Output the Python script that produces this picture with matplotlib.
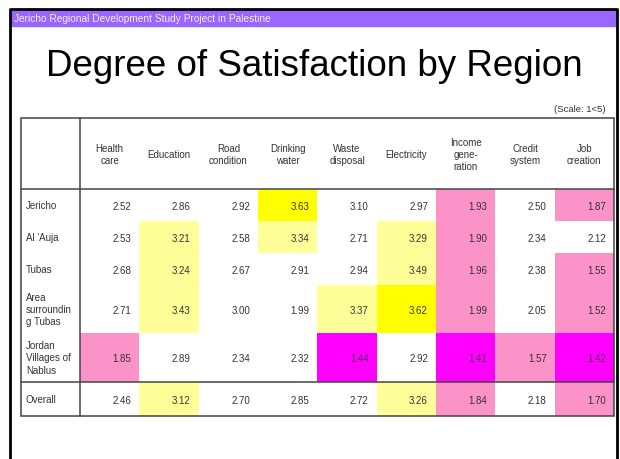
import matplotlib.pyplot as plt
from matplotlib.patches import Rectangle

# survey table: mean satisfaction (scale 1-5)
regions = ["Jericho", "Al 'Auja", "Tubas", "Area\nsurroundin\ng Tubas",
           "Jordan\nVillages of\nNablus", "Overall"]
items = ["Health\ncare", "Education", "Road\ncondition", "Drinking\nwater",
         "Waste\ndisposal", "Electricity", "Income\ngene-\nration",
         "Credit\nsystem", "Job\ncreation"]
scores = [
    [2.52, 2.86, 2.92, 3.63, 3.10, 2.97, 1.93, 2.50, 1.87],
    [2.53, 3.21, 2.58, 3.34, 2.71, 3.29, 1.90, 2.34, 2.12],
    [2.68, 3.24, 2.67, 2.91, 2.94, 3.49, 1.96, 2.38, 1.55],
    [2.71, 3.43, 3.00, 1.99, 3.37, 3.62, 1.99, 2.05, 1.52],
    [1.85, 2.89, 2.34, 2.32, 1.44, 2.92, 1.41, 1.57, 1.42],
    [2.46, 3.12, 2.70, 2.85, 2.72, 3.26, 1.84, 2.18, 1.70],
]
# highlight of each cell: Y bright yellow, y light yellow, p pink, m magenta
marks = [
    "---Y--p-p",
    "-y-y-yp--",
    "-y---yp-p",
    "-y--yYp-p",
    "p---m-mpm",
    "-y---yp-p",
]
fills = {"Y": "#ffff00", "y": "#ffff99", "p": "#fb92c8", "m": "#ff00ff"}

fig = plt.figure(figsize=(6.2, 4.6), dpi=100)
ax = fig.add_axes([0, 0, 1, 1])
ax.set_xlim(0, 620)
ax.set_ylim(460, 0)
ax.axis('off')

# slide frame and banner
ax.plot([10, 10, 617, 617], [460, 10, 10, 460], color='black', lw=2)
ax.add_patch(Rectangle((11, 11), 605, 16, color='#9966ff'))
ax.text(14, 19.5, "Jericho Regional Development Study Project in Palestine",
        fontsize=7.3, color='#f4eeff', va='center', family='Liberation Sans')
ax.text(314, 66, "Degree of Satisfaction by Region", fontsize=26.5,
        ha='center', va='center', family='Liberation Sans')
ax.text(606, 110, "(Scale: 1<5)", fontsize=6.8, ha='right', va='center',
        color='#333333', family='Liberation Sans')

# table geometry (pixels)
left, label_w, right = 21, 59, 614
top, head_h = 119, 71
row_h = [32, 32, 32, 48, 49, 34]
col_w = (right - left - label_w) / len(items)

ys = [top + head_h]
for h in row_h:
    ys.append(ys[-1] + h)

fs = 7
for j, name in enumerate(items):
    x0 = left + label_w + j * col_w
    ax.text(x0 + col_w / 2, top + 36, name, ha='center', va='center',
            fontsize=fs, color='#333333', linespacing=1.3,
            family='Liberation Sans')

for i, reg in enumerate(regions):
    y0, y1 = ys[i], ys[i + 1]
    ax.text(left + 5, (y0 + y1) / 2, reg, ha='left', va='center',
            fontsize=fs, color='#333333', linespacing=1.3,
            family='Liberation Sans')
    for j, v in enumerate(scores[i]):
        x0 = left + label_w + j * col_w
        m = marks[i][j]
        if m in fills:
            ax.add_patch(Rectangle((x0, y0), col_w, y1 - y0, color=fills[m], lw=0))
        ax.text(x0 + col_w - 8, (y0 + y1) / 2 + 1, f"{v:.2f}", ha='right',
                va='center', fontsize=fs,
                color='#5a2a5a' if m == 'm' else '#333333',
                family='Liberation Sans')

# table rules
lc = '#444444'
ax.add_patch(Rectangle((left, top), right - left, ys[-1] - top, fill=False,
                       ec=lc, lw=1.1))
ax.plot([left + label_w] * 2, [top, ys[-1]], color=lc, lw=1.1)
ax.plot([left, right], [ys[0]] * 2, color=lc, lw=1.1)
ax.plot([left, right], [ys[-2]] * 2, color=lc, lw=1.1)

fig.savefig('out.png', dpi=100)
